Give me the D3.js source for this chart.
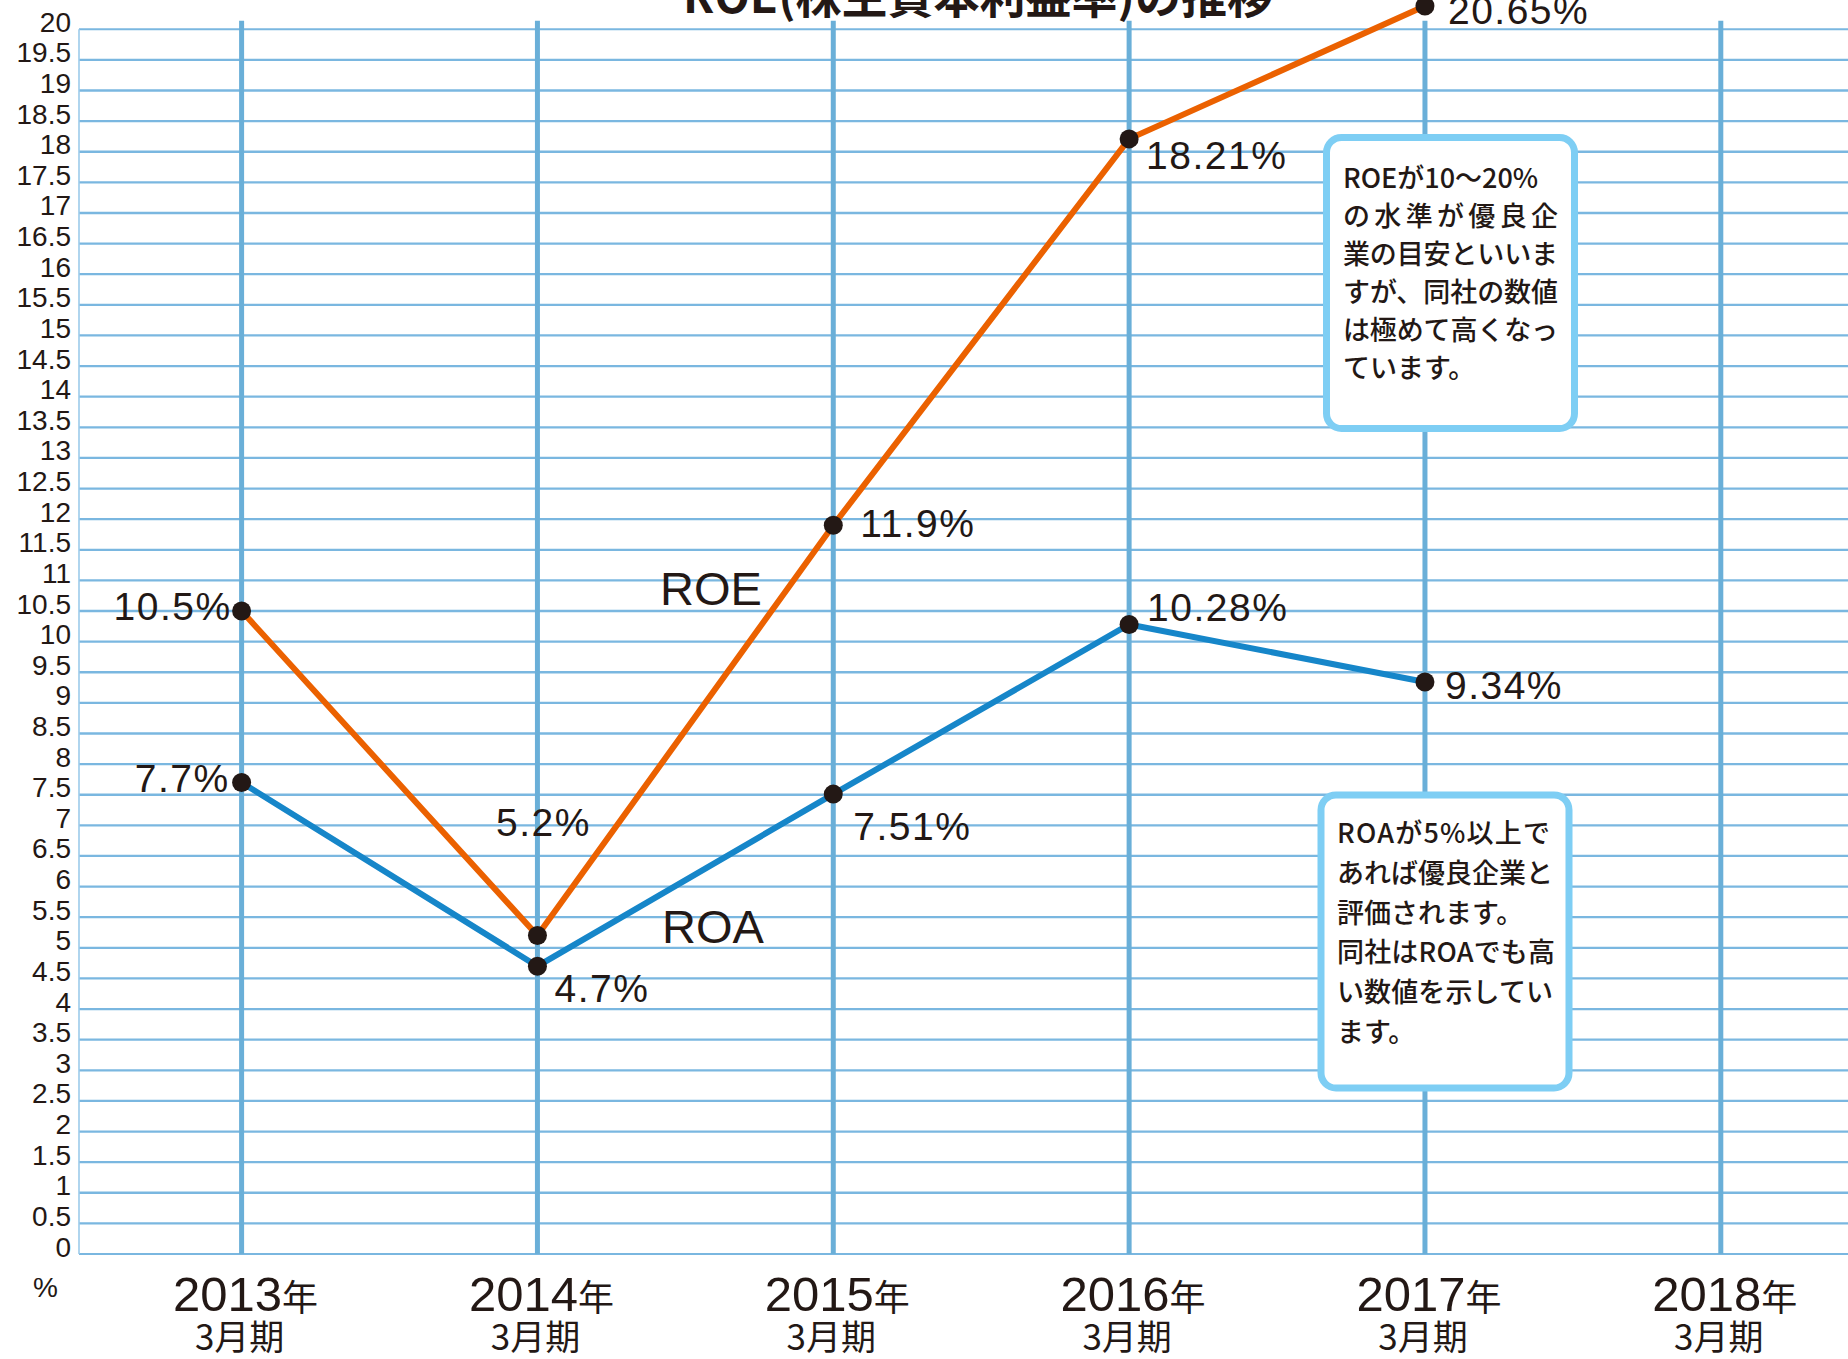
<!DOCTYPE html>
<html>
<head>
<meta charset="utf-8">
<script src="https://cdn.jsdelivr.net/npm/d3@7"></script>
<style>
  html, body { margin: 0; padding: 0; background: #ffffff; }
  svg { display: block; }
</style>
</head>
<body>
<svg id="chart" width="1848" height="1359"></svg>
<script>
// ---------- data ----------
const years = ["2013", "2014", "2015", "2016", "2017", "2018"];
const yearSuffix = "年";
const periodLabel = "3月期";
const roeValues = [10.5, 5.2, 11.9, 18.21, 20.65];
const roaValues = [7.7, 4.7, 7.51, 10.28, 9.34];
const yTickValues = [0, 0.5, 1, 1.5, 2, 2.5, 3, 3.5, 4, 4.5, 5, 5.5, 6, 6.5, 7, 7.5, 8, 8.5, 9, 9.5,
  10, 10.5, 11, 11.5, 12, 12.5, 13, 13.5, 14, 14.5, 15, 15.5, 16, 16.5, 17, 17.5, 18, 18.5, 19, 19.5, 20];
const titleText = "ROE(株主資本利益率)の推移";
const unitText = "%";
const seriesNames = ["ROE", "ROA"];
const noteRoe = ["ROEが10〜20%", "の水準が優良企", "業の目安といいま", "すが、同社の数値", "は極めて高くなっ", "ています。"];
const noteRoa = ["ROAが5%以上で", "あれば優良企業と", "評価されます。", "同社はROAでも高", "い数値を示してい", "ます。"];

// ---------- layout / style ----------
const plotLeft = 79, plotRight = 1848, plotBottom = 1254, visTop = 6;
const ink = "#231815";
const latin = "'Liberation Sans', Arial, sans-serif";
const jp = "'Noto Sans CJK JP', 'Noto Sans', sans-serif";
const colors = { ROE: "#eb6100", ROA: "#1686c9" };

const svg = d3.select("#chart");

// y: 0 -> 1254; the visible top (y=6) corresponds to ~20.38, values beyond are clamped
const y = d3.scaleLinear().domain([0, 20.38]).range([plotBottom, visTop]).clamp(true);
const x = d3.scalePoint().domain(years).range([241.6, 1720.8]);

// horizontal grid lines
svg.append("g")
  .selectAll("line")
  .data(yTickValues)
  .join("line")
  .attr("x1", plotLeft).attr("x2", plotRight)
  .attr("y1", d => y(d)).attr("y2", d => y(d))
  .attr("stroke", "#7ab7e0")
  .attr("stroke-width", d => (d === 20 || d === 0) ? 1.8 : 2.3);

// left frame line
svg.append("line")
  .attr("x1", plotLeft).attr("x2", plotLeft)
  .attr("y1", y(20)).attr("y2", plotBottom)
  .attr("stroke", "#9ccbea").attr("stroke-width", 1.6);

// y axis labels
const yAxis = d3.axisLeft(y).tickValues(yTickValues).tickSize(0).tickPadding(0)
  .tickFormat(d => String(d));
const gy = svg.append("g").attr("transform", "translate(71,0)").call(yAxis);
gy.select(".domain").remove();
gy.selectAll("text")
  .attr("font-family", latin)
  .attr("font-size", 28)
  .attr("fill", ink)
  .attr("y", 0)
  .attr("dy", 2);

// vertical year lines
svg.append("g")
  .selectAll("line")
  .data(years)
  .join("line")
  .attr("x1", d => x(d)).attr("x2", d => x(d))
  .attr("y1", 20.7).attr("y2", plotBottom)
  .attr("stroke", "#6aafd8")
  .attr("stroke-width", 5);

// x axis labels
const xl = svg.append("g");
years.forEach(yr => {
  const t = xl.append("text")
    .attr("x", x(yr) + 4).attr("y", 1311)
    .attr("text-anchor", "middle")
    .attr("fill", ink);
  t.append("tspan").attr("font-family", latin).attr("font-size", 49).text(yr);
  t.append("tspan").attr("font-family", jp).attr("font-size", 36).text(yearSuffix);
  xl.append("text")
    .attr("x", x(yr) - 2).attr("y", 1350)
    .attr("text-anchor", "middle")
    .attr("font-family", jp).attr("font-size", 35)
    .attr("fill", ink)
    .text(periodLabel);
});

// unit
svg.append("text")
  .attr("x", 33).attr("y", 1297)
  .attr("font-family", latin).attr("font-size", 28)
  .attr("fill", ink).text(unitText);

// title
svg.append("text")
  .attr("x", 978).attr("y", 13)
  .attr("text-anchor", "middle")
  .attr("font-family", jp).attr("font-size", 46).attr("font-weight", 700)
  .attr("fill", ink).text(titleText);

// series
const series = [
  { name: "ROE", values: roeValues },
  { name: "ROA", values: roaValues }
];
const line = d3.line().x((d, i) => x(years[i])).y(d => y(d));
series.forEach(s => {
  svg.append("path")
    .attr("d", line(s.values))
    .attr("fill", "none")
    .attr("stroke", colors[s.name])
    .attr("stroke-width", 6)
    .attr("stroke-linejoin", "miter");
});

// annotation boxes (drawn over the grid)
function note(lines, box, textX, baseY, pitch, justify) {
  svg.append("rect")
    .attr("x", box.x).attr("y", box.y).attr("width", box.w).attr("height", box.h)
    .attr("rx", 15).attr("ry", 15)
    .attr("fill", "#ffffff")
    .attr("stroke", "#7ecef4").attr("stroke-width", 7);
  lines.forEach((l, i) => {
    const t = svg.append("text")
      .attr("x", textX).attr("y", baseY + i * pitch)
      .attr("font-family", jp).attr("font-size", 27).attr("font-weight", 500)
      .attr("fill", ink).text(l);
    if (justify[i]) t.attr("textLength", justify[i]).attr("lengthAdjust", "spacing");
  });
}
note(noteRoe, { x: 1326.5, y: 137.5, w: 248, h: 291 }, 1343, 188, 38,
  [0, 215, 215, 215, 215, 0]);
note(noteRoa, { x: 1321, y: 795, w: 248, h: 293 }, 1337, 843, 39.8,
  [213, 216, 0, 218, 216, 0]);

// dots
series.forEach(s => {
  svg.append("g").selectAll("circle")
    .data(s.values)
    .join("circle")
    .attr("cx", (d, i) => x(years[i]))
    .attr("cy", d => y(d))
    .attr("r", 9.5)
    .attr("fill", ink);
});

// value labels (offsets from the point)
const labelOffsets = {
  ROE: [[-10, 9, "end"], [6, -100, "middle"], [27, 12, "start"], [17, 30, "start"], [23, 18, "start"]],
  ROA: [[-12, 10, "end"], [17, 36, "start"], [20, 46, "start"], [18, -3, "start"], [20, 17, "start"]]
};
series.forEach(s => {
  s.values.forEach((v, i) => {
    const [dx, dy, anchor] = labelOffsets[s.name][i];
    svg.append("text")
      .attr("x", x(years[i]) + dx)
      .attr("y", y(v) + dy)
      .attr("text-anchor", anchor)
      .attr("font-family", latin).attr("font-size", 39)
      .attr("letter-spacing", 1.5)
      .attr("fill", ink)
      .text(v + "%");
  });
});

// series names
const seriesLabelPos = { ROE: [660, 605], ROA: [662, 943] };
seriesNames.forEach(n => {
  svg.append("text")
    .attr("x", seriesLabelPos[n][0]).attr("y", seriesLabelPos[n][1])
    .attr("font-family", latin).attr("font-size", 47)
    .attr("fill", ink).text(n);
});
</script>
</body>
</html>
